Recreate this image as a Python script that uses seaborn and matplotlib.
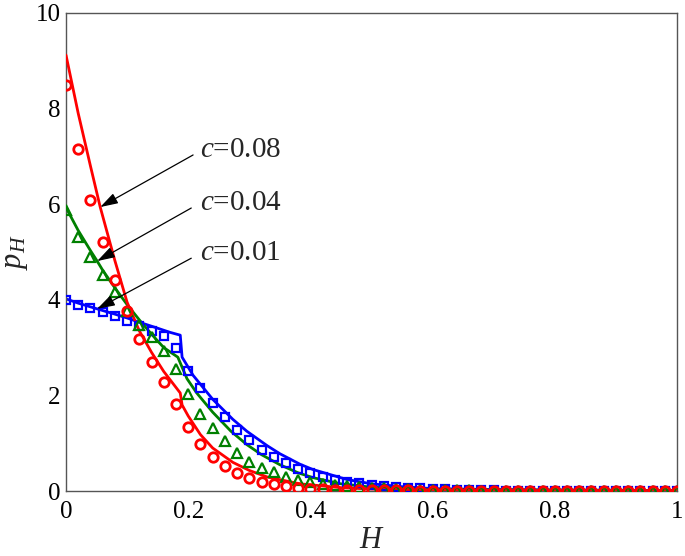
import numpy as np
import pandas as pd
import matplotlib
matplotlib.use("Agg")
import matplotlib.pyplot as plt
import seaborn as sns

# ---------------- data ----------------
H_marks = np.round(np.arange(0, 1.0001, 0.02), 2)

red_marks = [8.49, 7.15, 6.09, 5.21, 4.41, 3.76, 3.18, 2.70, 2.28, 1.83,
             1.34, 0.98, 0.72, 0.53, 0.38, 0.27, 0.19, 0.14, 0.10, 0.07,
             0.05, 0.04, 0.03, 0.03, 0.02, 0.02, 0.02, 0.02, 0.02, 0.01,
             0.01, 0.01, 0.01, 0.01, 0.01, 0.01, 0.01, 0.01, 0.01, 0.01,
             0.01, 0.01, 0.01, 0.01, 0.01, 0.01, 0.01, 0.01, 0.01, 0.01, 0.01]
green_marks = [5.87, 5.32, 4.89, 4.52, 4.17, 3.77, 3.47, 3.22, 2.92, 2.55,
               2.02, 1.62, 1.32, 1.05, 0.80, 0.61, 0.49, 0.39, 0.30, 0.23,
               0.18, 0.15, 0.12, 0.10, 0.08, 0.07, 0.06, 0.05, 0.04, 0.03,
               0.03, 0.02, 0.02, 0.02, 0.01, 0.01, 0.01, 0.01, 0.01, 0.01,
               0.0, 0.0, 0.0, 0.0, 0.0, 0.0, 0.0, 0.0, 0.0, 0.0, 0.0]
blue_marks = [4.00, 3.90, 3.82, 3.74, 3.66, 3.55, 3.45, 3.34, 3.24, 3.00,
              2.52, 2.16, 1.84, 1.55, 1.28, 1.06, 0.86, 0.71, 0.58, 0.47,
              0.37, 0.30, 0.24, 0.19, 0.16, 0.13, 0.11, 0.09, 0.07, 0.06,
              0.05, 0.04, 0.03, 0.03, 0.02, 0.02, 0.01, 0.01, 0.01, 0.01,
              0.0, 0.0, 0.0, 0.0, 0.0, 0.0, 0.0, 0.0, 0.0, 0.0, 0.0]

H_red_line = [0, 0.02, 0.04, 0.056, 0.08, 0.10, 0.12, 0.14, 0.16, 0.187, 0.19,
              0.20, 0.22, 0.24, 0.273, 0.30, 0.33, 0.383, 0.45, 0.50, 0.60, 0.80, 1.0]
red_line = [9.12, 7.90, 6.80, 5.94, 4.82, 3.95, 3.35, 2.90, 2.50, 2.05, 1.80,
            1.57, 1.18, 0.90, 0.60, 0.43, 0.29, 0.15, 0.07, 0.04, 0.02, 0.01, 0.01]

H_green_line = [0, 0.02, 0.04, 0.051, 0.06, 0.08, 0.10, 0.12, 0.14, 0.16, 0.183,
                0.198, 0.214, 0.24, 0.27, 0.296, 0.32, 0.35, 0.38, 0.404, 0.45, 0.50,
                0.60, 0.80, 1.0]
green_line = [5.93, 5.45, 5.03, 4.81, 4.62, 4.25, 3.90, 3.58, 3.28, 3.00, 2.80,
              2.35, 2.05, 1.65, 1.25, 0.97, 0.76, 0.55, 0.38, 0.28, 0.15, 0.08,
              0.03, 0.02, 0.01]

H_blue_line = [0, 0.02, 0.051, 0.08, 0.10, 0.12, 0.149, 0.17, 0.187, 0.19, 0.208,
               0.24, 0.273, 0.296, 0.329, 0.35, 0.383, 0.404, 0.46, 0.50, 0.55, 0.60,
               0.70, 0.80, 1.0]
blue_line = [4.02, 3.93, 3.81, 3.70, 3.62, 3.53, 3.41, 3.32, 3.26, 2.80, 2.42,
             1.92, 1.50, 1.25, 0.95, 0.78, 0.56, 0.45, 0.24, 0.15, 0.09, 0.05,
             0.03, 0.02, 0.01]

labels = ["0.08", "0.04", "0.01"]
xticks = [0, 0.2, 0.4, 0.6, 0.8, 1.0]
xticklabels = ["0", "0.2", "0.4", "0.6", "0.8", "1"]
yticks = [0, 2, 4, 6, 8, 10]

# ---------------- style ----------------
sns.set_theme(style="white")
plt.rcParams["font.family"] = ["Liberation Serif", "DejaVu Serif"]
plt.rcParams["mathtext.fontset"] = "custom"
plt.rcParams["mathtext.rm"] = "Liberation Serif"
plt.rcParams["mathtext.it"] = "Liberation Serif:italic"

RED, GREEN, BLUE = "#ff0000", "#008000", "#0000ff"

fig = plt.figure(figsize=(6.85, 5.56), dpi=100)
ax = fig.add_axes([66 / 685, 1 - 491 / 556, (677 - 66) / 685, (491 - 13) / 556])

lw = 2.0
sns.lineplot(x=H_blue_line, y=blue_line, ax=ax, color=BLUE, lw=lw, sort=False, estimator=None, zorder=2)
sns.lineplot(x=H_green_line, y=green_line, ax=ax, color=GREEN, lw=lw, sort=False, estimator=None, zorder=3)
sns.lineplot(x=H_red_line, y=red_line, ax=ax, color=RED, lw=lw, sort=False, estimator=None, zorder=4)

sns.lineplot(x=H_marks, y=blue_marks, ax=ax, ls="none", marker="s", ms=5.5, mfc="none",
             mec=BLUE, mew=1.6, color=BLUE, estimator=None, zorder=5)
sns.lineplot(x=H_marks, y=green_marks, ax=ax, ls="none", marker="^", ms=7, mfc="none",
             mec=GREEN, mew=1.6, color=GREEN, estimator=None, zorder=6)
sns.lineplot(x=H_marks, y=red_marks, ax=ax, ls="none", marker="o", ms=6.8, mfc="none",
             mec=RED, mew=2.0, color=RED, estimator=None, zorder=7)

# annotations
text_pos = [(0.22, 7.13), (0.22, 6.03), (0.22, 4.98)]
arrow_start = [(0.208, 7.03), (0.205, 5.92), (0.205, 4.87)]
arrow_tip = [(0.056, 5.94), (0.051, 4.81), (0.051, 3.81)]
for lab, tp, st, tip in zip(labels, text_pos, arrow_start, arrow_tip):
    ax.text(tp[0], tp[1], r"$c$=" + lab, fontsize=21, ha="left", va="center", zorder=10)
    ax.annotate("", xy=tip, xytext=st,
                arrowprops=dict(arrowstyle="-|>,head_length=0.9,head_width=0.28",
                                color="black", lw=0.9, shrinkA=0, shrinkB=0),
                zorder=10)

ax.set_xlim(0, 1)
ax.set_ylim(0, 10)
ax.set_xticks(xticks)
ax.set_xticklabels(xticklabels)
ax.set_yticks(yticks)
ax.tick_params(direction="in", length=5, width=0.8, colors="#444444",
               labelcolor="black", labelsize=18)
ax.tick_params(axis="x", pad=7)
ax.tick_params(axis="y", pad=4)
ax.tick_params(top=False, right=False)
for s in ax.spines.values():
    s.set_visible(True)
    s.set_color("#555555")
    s.set_linewidth(1.0)

ax.set_xlabel(r"$H$", fontsize=22, labelpad=2)
ax.set_ylabel(r"$p_H$", fontsize=22, labelpad=4)

fig.savefig("out.png", dpi=100)
